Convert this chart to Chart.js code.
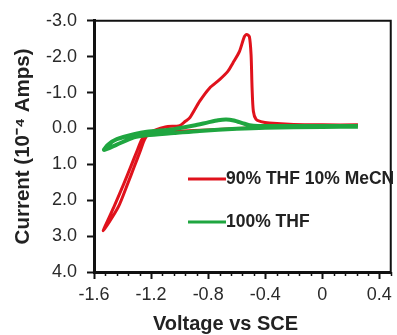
<!DOCTYPE html>
<html>
<head>
<meta charset="utf-8">
<script src="https://cdn.jsdelivr.net/npm/chart.js@4.4.1/dist/chart.umd.min.js"></script>
<style>
  html, body { margin: 0; padding: 0; background: #fff; }
  #wrap { width: 397px; height: 335px; }
</style>
</head>
<body>
<div id="wrap"><canvas id="c" width="397" height="335"></canvas></div>
<script>
// ---- Data (voltage in V vs SCE, current in 10^-4 A) ----
const seriesNames = ['90% THF 10% MeCN', '100% THF'];
const xTitle = 'Voltage vs SCE';
const yTitle = 'Current (10\u207B\u2074 Amps)';

const redVoltage = [0.25, 0.1, -0.2, -0.4, -0.6, -0.8, -1.0, -1.1, -1.2, -1.229, -1.264, -1.298, -1.345, -1.392, -1.461, -1.535,
  -1.43, -1.365, -1.32, -1.275, -1.245, -1.21, -1.1, -1.0, -0.96, -0.928, -0.859, -0.789, -0.72, -0.662, -0.627, -0.581, -0.546, -0.53,
  -0.511, -0.499, -0.492, -0.483, -0.464, -0.43, -0.372, -0.2, 0.0, 0.25];
const redCurrent = [-0.08, -0.07, -0.05, -0.03, 0.0, 0.04, 0.08, 0.11, 0.14, 0.16, 0.30, 0.62, 1.09, 1.55, 2.19, 2.85,
  2.19, 1.55, 1.09, 0.62, 0.30, 0.12, -0.04, -0.08, -0.2, -0.3, -0.76, -1.13, -1.36, -1.59, -1.82, -2.14, -2.56, -2.62,
  -2.56, -2.05, -1.13, -0.48, -0.25, -0.19, -0.15, -0.11, -0.1, -0.1];

const greenVoltage = [0.25, 0.0, -0.4, -0.6, -0.86, -1.04, -1.23, -1.32, -1.44, -1.53,
  -1.5, -1.44, -1.32, -1.23, -1.04, -0.9, -0.8, -0.73, -0.673, -0.62, -0.56, -0.51, -0.45, -0.2, 0.25];
const greenCurrent = [-0.05, -0.04, -0.02, 0.01, 0.07, 0.13, 0.19, 0.25, 0.45, 0.6,
  0.45, 0.3, 0.16, 0.09, 0.02, -0.08, -0.17, -0.23, -0.25, -0.22, -0.15, -0.09, -0.07, -0.07, -0.07];

const xTicks = [-1.6, -1.2, -0.8, -0.4, 0, 0.4];
const xTickLabels = ['-1.6', '-1.2', '-0.8', '-0.4', '0', '0.4'];
const yTicks = [-3, -2, -1, 0, 1, 2, 3, 4];
const yTickLabels = ['-3.0', '-2.0', '-1.0', '0.0', '1.0', '2.0', '3.0', '4.0'];

const colors = ['#e0121c', '#1fa640'];

const toPoints = (xs, ys) => xs.map((x, i) => ({ x: x, y: ys[i] }));

Chart.defaults.font.family = '"Liberation Sans", Arial, sans-serif';
Chart.defaults.color = '#2a2a2a';

const frame = {
  id: 'frame',
  afterDatasetsDraw(chart) {
    const { ctx, chartArea: a } = chart;
    ctx.save();
    ctx.strokeStyle = '#111';
    ctx.lineWidth = 2;
    ctx.beginPath();
    ctx.moveTo(a.left, a.top);
    ctx.lineTo(a.right, a.top);
    ctx.lineTo(a.right, a.bottom);
    ctx.stroke();
    // minor ticks on x axis
    const xs = chart.scales.x;
    ctx.lineWidth = 1.5;
    ctx.beginPath();
    for (let i = 0; i <= 26; i++) {
      if (i % 5 === 0) continue;
      const v = -1.6 + i * 0.08;
      const px = Math.round(xs.getPixelForValue(v)) + 0.5;
      ctx.moveTo(px, a.bottom);
      ctx.lineTo(px, a.bottom + 4);
    }
    ctx.stroke();
    // legend
    const legendY = [179, 222];
    ctx.font = 'bold 17.5px "Liberation Sans", Arial, sans-serif';
    ctx.textBaseline = 'middle';
    ctx.textAlign = 'left';
    chart.data.datasets.forEach((ds, i) => {
      ctx.strokeStyle = ds.borderColor;
      ctx.lineWidth = 3;
      ctx.beginPath();
      ctx.moveTo(188, legendY[i]);
      ctx.lineTo(226, legendY[i]);
      ctx.stroke();
      ctx.fillStyle = '#222';
      ctx.fillText(ds.label, 226, legendY[i]);
    });
    // x axis title
    ctx.font = 'bold 20px "Liberation Sans", Arial, sans-serif';
    ctx.textAlign = 'center';
    ctx.fillStyle = '#222';
    ctx.fillText(xTitle, 225.5, 324);
    ctx.restore();
  }
};

new Chart(document.getElementById('c'), {
  type: 'line',
  data: {
    datasets: [
      { label: seriesNames[0], data: toPoints(redVoltage, redCurrent), borderColor: colors[0], borderWidth: 3, pointRadius: 0, tension: 0.25, fill: false, order: 1 },
      { label: seriesNames[1], data: toPoints(greenVoltage, greenCurrent), borderColor: colors[1], borderWidth: 4, pointRadius: 0, tension: 0.25, fill: false, order: 0 }
    ]
  },
  options: {
    responsive: false,
    animation: false,
    layout: { padding: { top: 19, right: 4, left: 0, bottom: 0 } },
    plugins: { legend: { display: false }, tooltip: { enabled: false } },
    scales: {
      x: {
        type: 'linear',
        min: -1.6,
        max: 0.48,
        afterBuildTicks: s => { s.ticks = xTicks.map(v => ({ value: v })); },
        afterFit: s => { s.height = 63; },
        ticks: {
          callback: (v) => { const i = xTicks.findIndex(t => Math.abs(t - v) < 1e-6); return i >= 0 ? xTickLabels[i] : ''; },
          font: { size: 18 }, color: '#2a2a2a', padding: 5, maxRotation: 0, autoSkip: false
        },
        grid: { drawOnChartArea: false, drawTicks: true, tickLength: 7, tickColor: '#111', tickWidth: 2 },
        border: { display: true, color: '#111', width: 3 },
        title: { display: false }
      },
      y: {
        type: 'linear',
        reverse: true,
        min: -3,
        max: 4,
        afterBuildTicks: s => { s.ticks = yTicks.map(v => ({ value: v })); },
        afterFit: s => { s.width = 94; },
        ticks: {
          callback: (v) => { const i = yTicks.findIndex(t => Math.abs(t - v) < 1e-6); return i >= 0 ? yTickLabels[i] : ''; },
          font: { size: 18 }, color: '#2a2a2a', padding: 10, autoSkip: false
        },
        grid: { drawOnChartArea: false, drawTicks: true, tickLength: 7, tickColor: '#111', tickWidth: 2 },
        border: { display: true, color: '#111', width: 3 },
        title: { display: true, text: yTitle, font: { size: 20.5, weight: 'bold', lineHeight: 1.2 }, color: '#222', padding: { top: 11, bottom: 0 } }
      }
    }
  },
  plugins: [frame]
});
</script>
</body>
</html>
